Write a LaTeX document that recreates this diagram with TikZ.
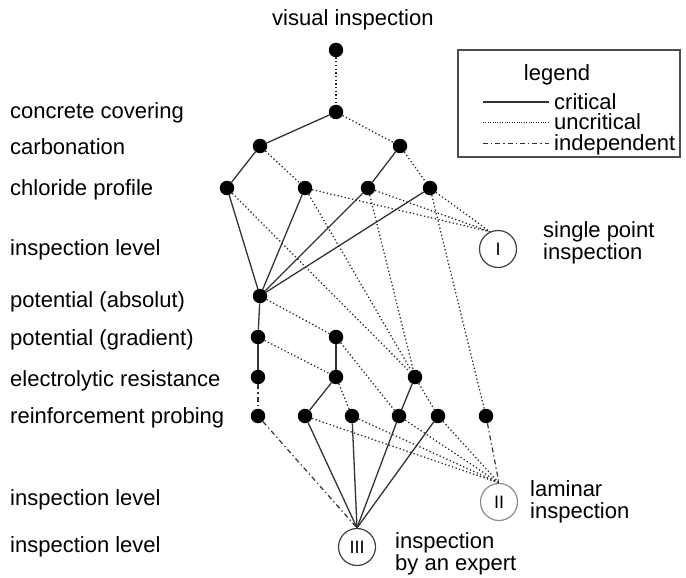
\documentclass[tikz,border=0pt]{standalone}
\usepackage{fontspec}
\setmainfont{Liberation Sans}
\begin{document}
\begin{tikzpicture}[x=1pt,y=-1pt,
  every node/.style={font=\fontsize{22}{23.5}\selectfont},
  dot/.style={circle,fill=black,inner sep=0pt,minimum size=14.5pt},
  level/.style={circle,draw=black!75,line width=1.2pt,inner sep=0pt,minimum size=37pt,
    font=\fontsize{18}{20}\selectfont},
  lbl/.style={anchor=west,inner sep=0pt,text height=1.5ex,text depth=.3ex,yshift=-4pt},
  side/.style={lbl,text depth=0pt,align=left,font=\fontsize{22}{22}\selectfont},
  critical/.style={draw=black!80,line width=1.3pt},
  uncritical/.style={draw=black!85,line width=1.25pt,dash pattern=on 1.3pt off 2.4pt},
  independent/.style={draw=black!80,line width=1.2pt,dash pattern=on 5pt off 3pt on 1.3pt off 3pt}]
\useasboundingbox (0,0) rectangle (686,578);

% row labels
\node[lbl] (t0) at (272,18) {visual inspection};
\node[lbl] (t1) at (10,111) {concrete covering};
\node[lbl] (t2) at (10,147) {carbonation};
\node[lbl] (t3) at (10,188) {chloride profile};
\node[lbl] (t4) at (10,248) {inspection level};
\node[lbl] (t5) at (10,300) {potential (absolut)};
\node[lbl] (t6) at (10,338) {potential (gradient)};
\node[lbl] (t7) at (10,379) {electrolytic resistance};
\node[lbl] (t8) at (10,416) {reinforcement probing};
\node[lbl] (t9) at (10,498) {inspection level};
\node[lbl] (t10) at (10,545) {inspection level};

% method nodes
\node[dot] (vis) at (336,50) {};
\node[dot] (cc) at (336,112) {};
\node[dot] (cb1) at (260,146) {};
\node[dot] (cb2) at (400,146) {};
\node[dot] (cl1) at (227,188) {};
\node[dot] (cl2) at (305,188) {};
\node[dot] (cl3) at (368,188) {};
\node[dot] (cl4) at (430,188) {};
\node[dot] (pa) at (260,296) {};
\node[dot] (pg1) at (258,337) {};
\node[dot] (pg2) at (336,337) {};
\node[dot] (er1) at (258,377) {};
\node[dot] (er2) at (336,377) {};
\node[dot] (er3) at (415,377) {};
\node[dot] (rp1) at (258,416) {};
\node[dot] (rp2) at (305,416) {};
\node[dot] (rp3) at (352,416) {};
\node[dot] (rp4) at (399,416) {};
\node[dot] (rp5) at (438,416) {};
\node[dot] (rp6) at (486,416) {};

% inspection levels
\node[level] (L1) at (498,249) {I};
\node[level,draw=black!45] (L2) at (499,502) {II};
\node[level] (L3) at (357,547) {III};

\node[side] (s1) at (543,252) {single point\\inspection};
\node[side] (s2) at (530,511) {laminar\\inspection};
\node[side] (s3) at (395,563) {inspection\\by an expert};

% critical dependencies
\foreach \a/\b in {cc/cb1,cb1/cl1,cb2/cl3,cl1/pa,cl2/pa,cl3/pa,cl4/pa,pa/pg1,pg1/er1,
  pg2/er2,er2/rp2,er3/rp4}
  \path[critical] (\a) -- (\b);
\foreach \a in {rp2,rp3,rp4,rp5}
  \path[critical] (\a) -- (L3.north);

% uncritical dependencies
\foreach \a/\b in {vis/cc,cc/cb2,cb1/cl2,cb2/cl4,cl1/er3,cl2/er3,cl3/er3,cl4/rp6,
  pa/pg2,pg1/er2,pg2/rp4,er2/rp3,er3/rp5}
  \path[uncritical] (\a) -- (\b);
\foreach \a in {cl2,cl3,cl4}
  \path[uncritical] (\a) -- (L1.115);
\foreach \a in {rp2,rp3,rp4,rp5}
  \path[uncritical] (\a) -- (L2.north);

% independent
\path[independent] (er1) -- (rp1);
\path[independent] (rp1) -- (L3.north);
\path[independent] (rp6) -- (L2.north);

% legend
\draw[draw=black!70,line width=1.3pt] (458,50) rectangle (680,157);
\node[lbl,anchor=center] (lg) at (557,73) {legend};
\coordinate (a1) at (483,102); \coordinate (b1) at (549,102);
\coordinate (a2) at (483,122); \coordinate (b2) at (549,122);
\coordinate (a3) at (483,143); \coordinate (b3) at (549,143);
\path[critical,line width=1.1pt] (a1) -- (b1);
\path[uncritical,line width=0.8pt,dash pattern=on 0.8pt off 1.6pt] (a2) -- (b2);
\path[independent,line width=1pt] (a3) -- (b3);
\node[lbl] (k1) at (554,102) {critical};
\node[lbl] (k2) at (554,122) {uncritical};
\node[lbl] (k3) at (554,143) {independent};
\end{tikzpicture}
\end{document}
